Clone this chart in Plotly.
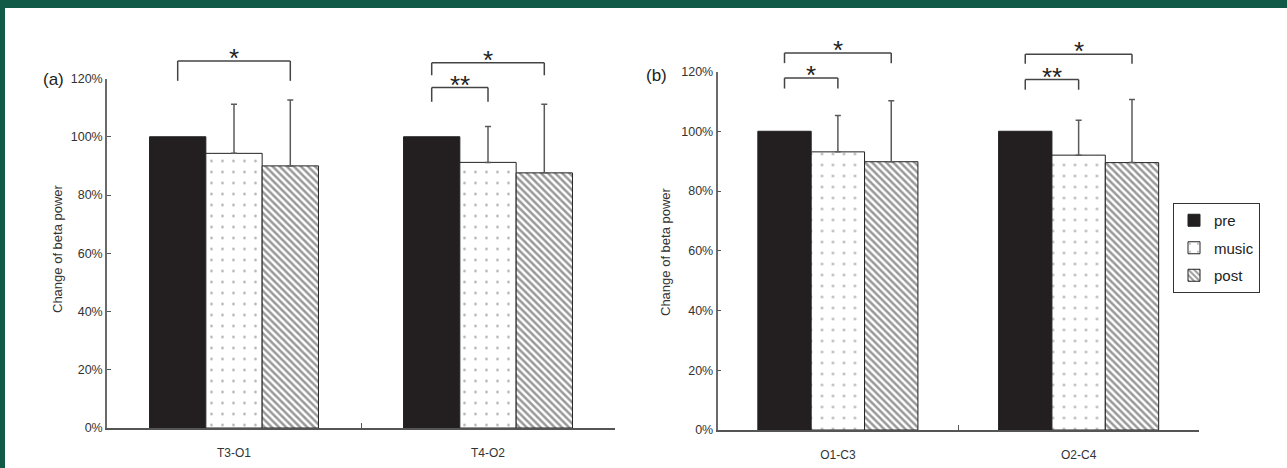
import plotly.graph_objects as go

# ---------------- data ----------------
series_names = ["pre", "music", "post"]

categories_a = ["T3-O1", "T4-O2"]
pre_a = [100, 100]
music_a = [94.3, 91.2]
music_err_a = [16.9, 12.3]
post_a = [90.0, 87.6]
post_err_a = [22.6, 23.6]

categories_b = ["O1-C3", "O2-C4"]
pre_b = [100, 100]
music_b = [93.1, 92.0]
music_err_b = [12.2, 11.7]
post_b = [89.8, 89.5]
post_err_b = [20.4, 21.1]

y_tickvals = [0, 20, 40, 60, 80, 100, 120]
y_ticktext = ["0%", "20%", "40%", "60%", "80%", "100%", "120%"]

# significance brackets: (panel, category index, from series, to series, level %, leg %, label)
brackets = [
    ("a", 0, 0, 2, 126.0, 119.2, "*"),
    ("a", 1, 0, 2, 125.4, 121.1, "*"),
    ("a", 1, 0, 1, 116.9, 112.0, "**"),
    ("b", 0, 0, 2, 126.2, 122.8, "*"),
    ("b", 0, 0, 1, 117.8, 114.3, "*"),
    ("b", 1, 0, 2, 125.8, 122.6, "*"),
    ("b", 1, 0, 1, 117.3, 113.9, "**"),
]

# ---------------- layout geometry ----------------
W, H = 1287, 468
FONT = "Liberation Sans, Arial, sans-serif"
BARGAP = 0.335

dom_x_a = [107 / W, 615 / W]
dom_y_a = [1 - 428 / H, 1 - 78.5 / H]
dom_x_b = [717.5 / W, 1199 / W]
dom_y_b = [1 - 430 / H, 1 - 71.5 / H]

styles = {
    "pre": dict(color="#231f20", pattern=None),
    "music": dict(color="white", pattern=dict(shape=".", fgcolor="#5a5a5a", bgcolor="white",
                                              size=11, solidity=0.045)),
    "post": dict(color="white", pattern=dict(shape="\\", fgcolor="#333333", bgcolor="white",
                                             size=5, solidity=0.5)),
}

fig = go.Figure()


def add_panel(cats, pre, music, music_err, post, post_err, xa, ya, show_leg):
    vals = [pre, music, post]
    errs = [None, music_err, post_err]
    for name, v, e in zip(series_names, vals, errs):
        st = styles[name]
        marker = dict(color=st["color"], line=dict(color="#222222", width=1))
        if st["pattern"] is not None:
            marker["pattern"] = st["pattern"]
        kw = {}
        if e is not None:
            kw["error_y"] = dict(type="data", array=e, arrayminus=[0] * len(e), symmetric=False,
                                 color="#5a5a5a", thickness=1.5, width=3)
        fig.add_trace(go.Bar(x=cats, y=v, name=name, marker=marker, xaxis=xa, yaxis=ya,
                             showlegend=show_leg, legendgroup=name, **kw))


add_panel(categories_a, pre_a, music_a, music_err_a, post_a, post_err_a, "x", "y", False)
add_panel(categories_b, pre_b, music_b, music_err_b, post_b, post_err_b, "x2", "y2", True)

axis_common_y = dict(range=[0, 120], tickvals=y_tickvals, ticktext=y_ticktext,
                     showline=True, linecolor="#6a6a6a", linewidth=1.5,
                     ticks="inside", ticklen=4, tickcolor="#555555", tickwidth=1,
                     showgrid=False, zeroline=False, ticklabelstandoff=0,
                     tickfont=dict(family=FONT, size=12.5, color="#333333"),
                     fixedrange=True, automargin=False)
axis_common_x = dict(range=[-0.5, 1.5], showline=True, linecolor="#555555", linewidth=1.5,
                     ticks="inside", tickson="boundaries", ticklen=5, tickcolor="#555555",
                     showgrid=False, zeroline=False, ticklabelstandoff=13,
                     tickfont=dict(family=FONT, size=12, color="#333333"), fixedrange=True,
                     automargin=False)

fig.update_layout(
    width=W, height=H, autosize=False,
    margin=dict(l=0, r=0, t=0, b=0, pad=0, autoexpand=False),
    paper_bgcolor="white", plot_bgcolor="white",
    barmode="group", bargap=BARGAP, bargroupgap=0,
    xaxis=dict(domain=dom_x_a, anchor="y", **axis_common_x),
    yaxis=dict(domain=dom_y_a, anchor="x", **axis_common_y),
    xaxis2=dict(domain=dom_x_b, anchor="y2", **axis_common_x),
    yaxis2=dict(domain=dom_y_b, anchor="x2", **axis_common_y),
    legend=dict(x=1173 / W, y=1 - 203 / H, xanchor="left", yanchor="top",
                bordercolor="#333333", borderwidth=1, bgcolor="white",
                font=dict(family=FONT, size=15, color="#222222"),
                traceorder="grouped", tracegroupgap=5, itemwidth=30),
    font=dict(family=FONT),
)

shapes = []
annotations = []

# green frame
shapes.append(dict(type="rect", xref="paper", yref="paper", x0=0, x1=5 / W, y0=0, y1=1,
                   fillcolor="#115a48", line=dict(width=0), layer="above"))
shapes.append(dict(type="rect", xref="paper", yref="paper", x0=0, x1=1, y0=1 - 8 / H, y1=1,
                   fillcolor="#115a48", line=dict(width=0), layer="above"))

w = (1 - BARGAP) / 3
offsets = [-w, 0, w]


def ypaper(panel, v):
    d = dom_y_a if panel == "a" else dom_y_b
    return d[0] + v / 120 * (d[1] - d[0])


for panel, ci, s0, s1, lvl, leg, label in brackets:
    xr = "x" if panel == "a" else "x2"
    xa = ci + offsets[s0]
    xb = ci + offsets[s1]
    yl = ypaper(panel, lvl)
    yg = ypaper(panel, leg)
    line = dict(color="#444444", width=1.5)
    shapes.append(dict(type="line", xref=xr, yref="paper", x0=xa, x1=xb, y0=yl, y1=yl, line=line))
    shapes.append(dict(type="line", xref=xr, yref="paper", x0=xa, x1=xa, y0=yl, y1=yg, line=line))
    shapes.append(dict(type="line", xref=xr, yref="paper", x0=xb, x1=xb, y0=yl, y1=yg, line=line))
    annotations.append(dict(text=label, xref=xr, yref="paper", x=(xa + xb) / 2, y=yl,
                            xanchor="center", yanchor="middle", yshift=3, showarrow=False,
                            font=dict(family=FONT, size=26, color="#222222")))

# panel labels
annotations.append(dict(text="(a)", xref="paper", yref="paper", x=41 / W, y=1 - 79 / H,
                        xanchor="left", yanchor="middle", showarrow=False,
                        font=dict(family=FONT, size=17, color="#222222")))
annotations.append(dict(text="(b)", xref="paper", yref="paper", x=644 / W, y=1 - 75 / H,
                        xanchor="left", yanchor="middle", showarrow=False,
                        font=dict(family=FONT, size=17, color="#222222")))
# y axis titles
annotations.append(dict(text="Change of beta power", xref="paper", yref="paper",
                        x=57 / W, y=1 - 249 / H, textangle=-90, showarrow=False,
                        xanchor="center", yanchor="middle",
                        font=dict(family=FONT, size=13, color="#333333")))
annotations.append(dict(text="Change of beta power", xref="paper", yref="paper",
                        x=665 / W, y=1 - 252 / H, textangle=-90, showarrow=False,
                        xanchor="center", yanchor="middle",
                        font=dict(family=FONT, size=13, color="#333333")))

fig.update_layout(shapes=shapes, annotations=annotations)

fig.write_html("out.html", config={"displayModeBar": False, "responsive": False},
               post_script="document.body.style.margin='0';")
